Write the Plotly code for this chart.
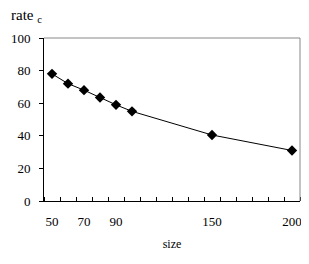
import plotly.graph_objects as go

sizes = [50, 60, 70, 80, 90, 100, 150, 200]
rates = [78, 72, 68, 63.5, 59, 55, 40.5, 31]
x_tick_vals = [50, 70, 90, 150, 200]
x_tick_text = ["50", "70", "90", "150", "200"]
y_tick_vals = [0, 20, 40, 60, 80, 100]

font_family = "Liberation Serif"

fig = go.Figure()
fig.add_trace(go.Scatter(
    x=sizes, y=rates, mode="lines+markers",
    line=dict(color="black", width=1),
    marker=dict(symbol="diamond", size=8, color="black"),
    showlegend=False, cliponaxis=False,
))

fig.update_layout(
    width=301, height=256,
    margin=dict(l=36, r=9, t=30, b=63, autoexpand=False),
    paper_bgcolor="white", plot_bgcolor="white",
    font=dict(family=font_family, size=13, color="black"),
    xaxis=dict(
        range=[45, 205], tickmode="array", tickvals=x_tick_vals, ticktext=x_tick_text,
        ticks="", showgrid=False, zeroline=False, automargin=False,
        showline=True, linecolor="black", linewidth=1,
        minor=dict(tickmode="linear", tick0=45, dtick=10, ticks="inside",
                   ticklen=4, tickcolor="black", showgrid=False),
        ticklabelstandoff=8,
        title=dict(text="size", font=dict(size=12), standoff=12),
    ),
    yaxis=dict(
        range=[0, 100], tickmode="array", tickvals=y_tick_vals,
        ticks="outside", ticklen=4, tickcolor="black", automargin=False,
        ticklabelstandoff=6,
        showgrid=False, zeroline=False,
        showline=True, linecolor="black", linewidth=1,
    ),
    shapes=[
        dict(type="line", xref="paper", yref="paper", x0=0, x1=1, y0=1, y1=1,
             line=dict(color="#888888", width=1)),
        dict(type="line", xref="paper", yref="paper", x0=1, x1=1, y0=0, y1=1,
             line=dict(color="#888888", width=1)),
    ],
    annotations=[
        dict(text="rate <sub>c</sub>", xref="paper", yref="paper",
             x=-0.135, y=1.07, xanchor="left", yanchor="bottom", showarrow=False,
             font=dict(size=15)),
    ],
)

fig.write_html("out.html")
